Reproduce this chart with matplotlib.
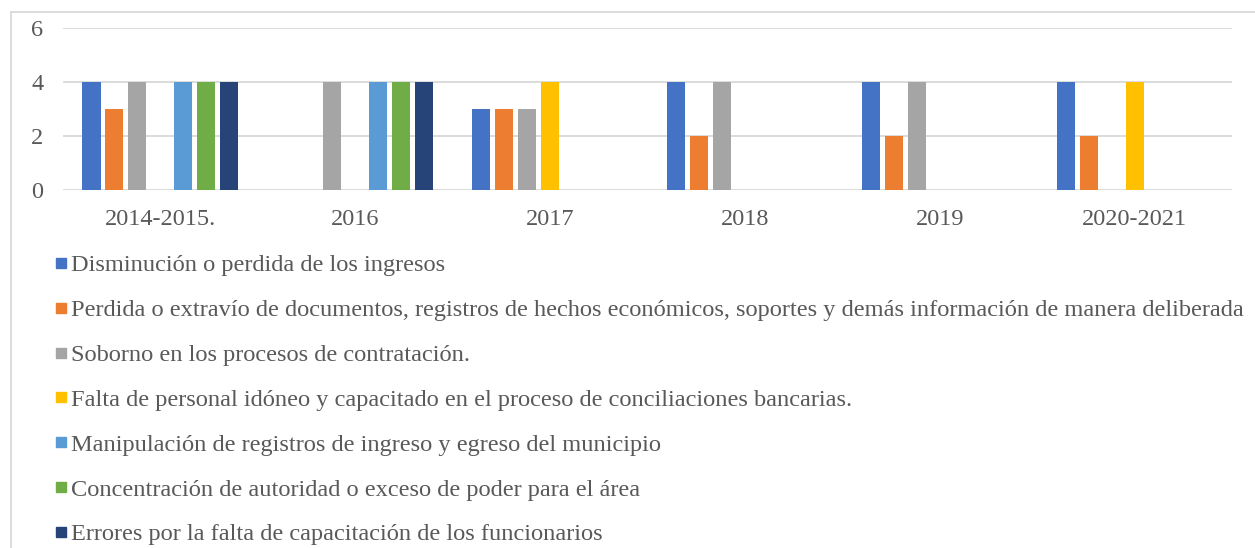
import numpy as np
import matplotlib
matplotlib.use("Agg")
import matplotlib.pyplot as plt
from matplotlib.lines import Line2D

plt.rcParams['font.family'] = ['Liberation Serif', 'DejaVu Serif']

categories = ['2014-2015.', '2016', '2017', '2018', '2019', '2020-2021']
series_names = [
    'Disminución o perdida de los ingresos',
    'Perdida o extravío de documentos, registros de hechos económicos, soportes y demás información de manera deliberada',
    'Soborno en los procesos de contratación.',
    'Falta de personal idóneo y capacitado en el proceso de conciliaciones bancarias.',
    'Manipulación de registros de ingreso y egreso del municipio',
    'Concentración de autoridad o exceso de poder para el área',
    'Errores por la falta de capacitación de los funcionarios',
]
values = [
    [4, 0, 3, 4, 4, 4],
    [3, 0, 3, 2, 2, 2],
    [4, 4, 3, 4, 4, 0],
    [0, 0, 4, 0, 0, 4],
    [4, 4, 0, 0, 0, 0],
    [4, 4, 0, 0, 0, 0],
    [4, 4, 0, 0, 0, 0],
]
colors = ['#4472C4', '#ED7D31', '#A5A5A5', '#FFC000', '#5B9BD5', '#70AD47', '#264478']

text_color = '#595959'
grid_color = '#D9D9D9'

fig = plt.figure(figsize=(12.55, 5.48), dpi=100)
ax = fig.add_axes([0.0502, 0.6533, 0.9315, 0.2956])

x = np.arange(len(categories))
step = 0.118
for i, (vals, c) in enumerate(zip(values, colors)):
    ax.bar(x + (i - 3) * step, vals, width=0.093, color=c,
           linewidth=0, zorder=3)

ax.set_xlim(-0.5, len(categories) - 0.5)
ax.set_ylim(0, 6)
ax.set_yticks([0, 2, 4, 6])
ax.set_xticks(x)
ax.set_xticklabels(categories)
ax.grid(axis='y', color=grid_color, linewidth=1.3, zorder=0)
ax.tick_params(length=0, labelsize=17.5, colors=text_color)
ax.tick_params(axis='x', pad=14)
ax.tick_params(axis='y', pad=14)
for s in ax.spines.values():
    s.set_visible(False)

handles = [Line2D([], [], marker='s', linestyle='none', markersize=7.2,
                  markerfacecolor=c, markeredgecolor=c) for c in colors]
leg = fig.legend(handles, series_names, loc='upper left',
                 bbox_to_anchor=(0.0440, 0.536), frameon=False, fontsize=17.55,
                 labelspacing=0.935, handlelength=0.45, handletextpad=0.2,
                 borderaxespad=0, borderpad=0)
for t in leg.get_texts():
    t.set_color(text_color)

# chart border (top and left visible)
fig.add_artist(Line2D([11 / 1255, 1.0], [1 - 12 / 548, 1 - 12 / 548],
                      transform=fig.transFigure, color=grid_color, linewidth=1.3))
fig.add_artist(Line2D([11 / 1255, 11 / 1255], [0, 1 - 12 / 548],
                      transform=fig.transFigure, color=grid_color, linewidth=1.3))

fig.savefig('out.png', dpi=100)
